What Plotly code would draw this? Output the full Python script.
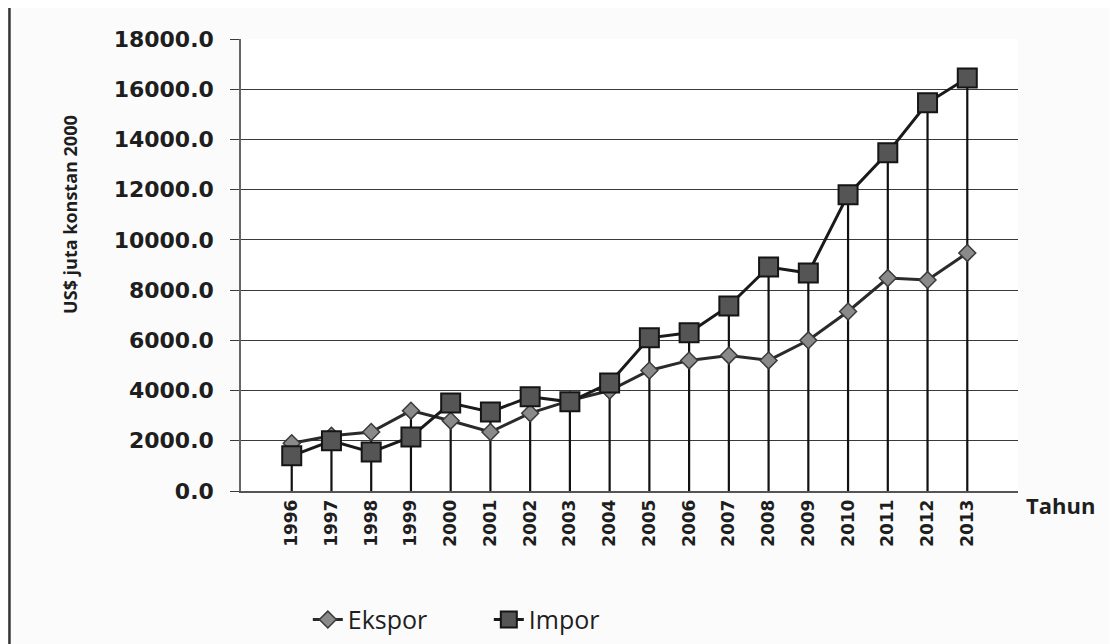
import plotly.graph_objects as go

years = [str(y) for y in range(1996, 2014)]
ekspor = [1900, 2200, 2350, 3200, 2800, 2350, 3100, 3600, 4000, 4800, 5200, 5400, 5200, 6000, 7150, 8480, 8400, 9480]
impor = [1400, 2000, 1550, 2150, 3500, 3150, 3750, 3550, 4300, 6100, 6300, 7370, 8920, 8680, 11800, 13470, 15460, 16450]
y_ticks = list(range(0, 18001, 2000))
y_tick_labels = [f"{v:.1f}" for v in y_ticks]

# drop lines from axis to the highest point of each year
drop_x, drop_y = [], []
for yr, e, i in zip(years, ekspor, impor):
    drop_x += [yr, yr, None]
    drop_y += [0, max(e, i), None]

fig = go.Figure()
fig.add_trace(go.Scatter(x=drop_x, y=drop_y, mode="lines",
                         line=dict(color="#111111", width=2.2),
                         showlegend=False, hoverinfo="skip"))
fig.add_trace(go.Scatter(x=years, y=ekspor, name="Ekspor", mode="lines+markers",
                         line=dict(color="#2a2a2a", width=3),
                         marker=dict(symbol="diamond", size=13, color="#8a8a8a",
                                     line=dict(color="#3a3a3a", width=1.5))))
fig.add_trace(go.Scatter(x=years, y=impor, name="Impor", mode="lines+markers",
                         line=dict(color="#1a1a1a", width=3),
                         marker=dict(symbol="square", size=19, color="#555555",
                                     line=dict(color="#151515", width=2))))

fig.update_layout(
    width=1117, height=644,
    margin=dict(l=233, r=107, t=31, b=161, autoexpand=False),
    paper_bgcolor="#fbfbfb", plot_bgcolor="#ffffff",
    font=dict(family="DejaVu Sans", color="#1e1e1e"),
    showlegend=True,
    legend=dict(orientation="h", x=0.086, y=-0.285, xanchor="left", yanchor="middle",
                entrywidth=136, entrywidthmode="pixels",
                font=dict(family="Open Sans", size=25, color="#1e1e1e"),
                bgcolor="rgba(0,0,0,0)"),
    xaxis=dict(type="category", tickangle=-90,
               tickfont=dict(size=17, color="#1e1e1e", weight="bold"),
               showgrid=False, showline=True, linecolor="#555555", linewidth=1.5,
               ticks="", zeroline=False, automargin=False),
    yaxis=dict(range=[0, 18000], tickvals=y_ticks, ticktext=y_tick_labels,
               tickfont=dict(size=22, color="#1e1e1e", weight="bold"),
               ticklabelstandoff=12,
               showgrid=True, gridcolor="#3a3a3a", gridwidth=1.3,
               showline=True, linecolor="#666666", linewidth=1.5,
               ticks="outside", ticklen=9, tickcolor="#3a3a3a",
               zeroline=False, automargin=False),
    annotations=[dict(text="<b>Tahun</b>", xref="paper", yref="paper", x=1.008, y=-0.03,
                      xanchor="left", yanchor="middle", showarrow=False,
                      font=dict(family="Open Sans", size=22, color="#1e1e1e")),
                 dict(text="<b>US$ juta konstan 2000</b>", xref="paper", yref="paper",
                      x=-0.22, y=0.611, xanchor="center", yanchor="middle", textangle=-90,
                      showarrow=False,
                      font=dict(family="Open Sans", size=18, color="#1e1e1e"))],
    shapes=[dict(type="line", xref="paper", yref="paper", x0=-0.298, x1=-0.298, y0=-0.4, y1=1.08,
                 line=dict(color="#333333", width=2.5)),
            dict(type="line", xref="paper", yref="paper", x0=-0.298, x1=1.13, y0=1.073, y1=1.073,
                 line=dict(color="#999999", width=1))],
)

fig.write_html("out.html")
